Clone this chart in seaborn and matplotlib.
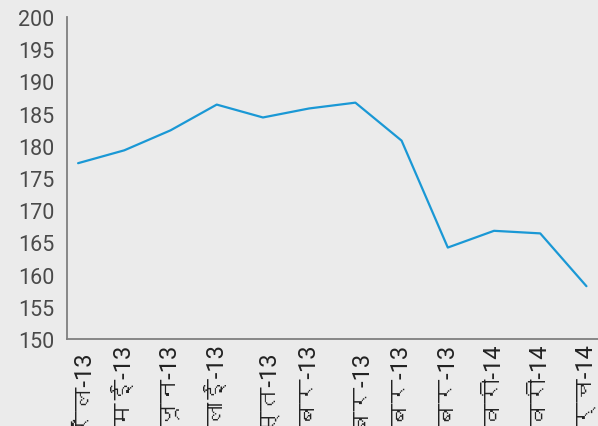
import matplotlib
matplotlib.use("Agg")
import matplotlib.pyplot as plt
from matplotlib import font_manager
from matplotlib.ft2font import FT2Font
import seaborn as sns
import pandas as pd

months = ["अप्रैल-13", "मई-13", "जून-13", "जुलाई-13", "अगस्त-13", "सितंबर-13",
          "अक्तूबर-13", "नवम्बर-13", "दिसम्बर-13", "जनवरी-14", "फरवरी-14", "मार्च-14"]
values = [177.3, 179.3, 182.4, 186.4, 184.4, 185.8, 186.7, 180.8, 164.2, 166.8, 166.4, 158.2]
y_ticks = [150, 155, 160, 165, 170, 175, 180, 185, 190, 195, 200]

line_color = "#1a98d5"
bg_color = "#ebebeb"
axis_color = "#7f7f7f"
text_color = "#4a4a4a"


def find_devanagari_family():
    seen = set()
    for f in font_manager.fontManager.ttflist:
        if f.fname in seen:
            continue
        seen.add(f.fname)
        try:
            cmap = FT2Font(f.fname).get_charmap()
        except Exception:
            continue
        if ord("अ") in cmap and ord("र") in cmap:
            return f.name
    return None


sns.set_theme(style="white")
deva = find_devanagari_family()
families = ["Roboto", "DejaVu Sans"]
if deva:
    families = ["Roboto", deva, "DejaVu Sans"]
plt.rcParams["font.family"] = families

df = pd.DataFrame({"month": months, "value": values, "pos": range(len(months))})

fig = plt.figure(figsize=(5.98, 4.27), dpi=100, facecolor=bg_color)
ax = fig.add_axes([67 / 598, (427 - 340) / 427, 1 - 67 / 598, (340 - 18) / 427])
ax.set_facecolor(bg_color)

sns.lineplot(data=df, x="pos", y="value", ax=ax, color=line_color, linewidth=1.6)

ax.set_xlim(-0.24, 11.25)
ax.set_ylim(150, 200)
ax.set_yticks(y_ticks)
ax.set_yticklabels([str(t) for t in y_ticks], fontsize=15.5, color=text_color)
ax.set_xticks(df["pos"])
ax.set_xticklabels(months, rotation=90, fontsize=17, color="#222222",
                   va="top", ha="center", family=families)
ax.tick_params(axis="both", length=0)
ax.tick_params(axis="y", pad=9)
ax.tick_params(axis="x", pad=4)
ax.set_xlabel("")
ax.set_ylabel("")

for side in ["top", "right"]:
    ax.spines[side].set_visible(False)
for side in ["left", "bottom"]:
    ax.spines[side].set_color(axis_color)
    ax.spines[side].set_linewidth(1.3)

fig.savefig("out.png", dpi=100, facecolor=bg_color)
